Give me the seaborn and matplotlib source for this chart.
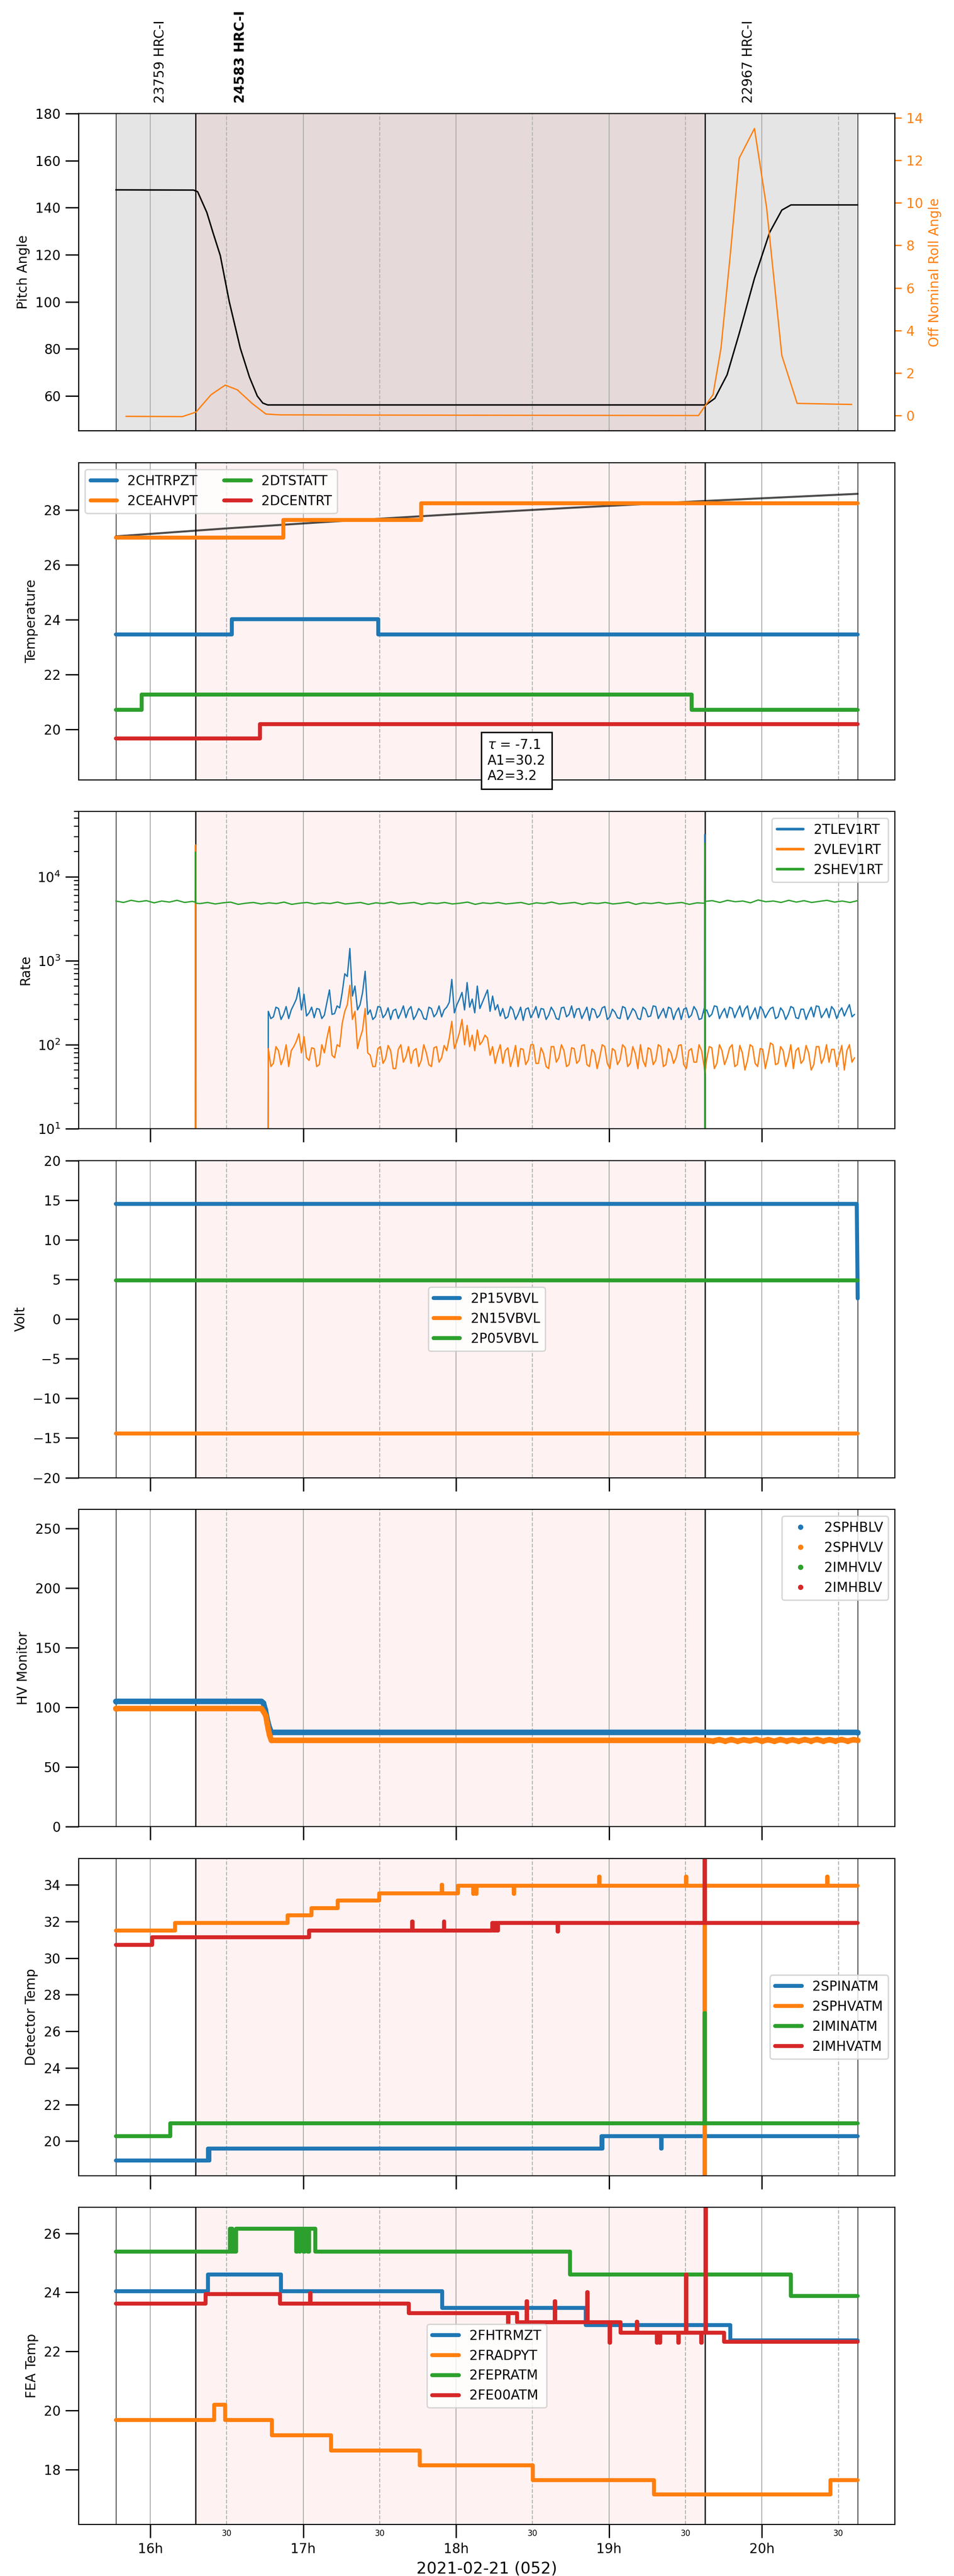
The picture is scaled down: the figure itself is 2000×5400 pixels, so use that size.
import numpy as np
import seaborn as sns
import matplotlib.pyplot as plt
from matplotlib.ticker import MultipleLocator, FuncFormatter
from matplotlib.lines import Line2D

# times are decimal hours on 2021-02-21
t_start, t_end = 15.775, 20.626
obs_bounds = [15.775, 16.296, 19.627, 20.626]
obs_names = ['23759 HRC-I', '24583 HRC-I', '22967 HRC-I']
obs_label_t = [16.065, 16.59, 19.91]

# panel 1: pitch / off nominal roll
pitch_t = [15.775, 16.283, 16.310, 16.370, 16.410, 16.458, 16.517, 16.589, 16.649, 16.700, 16.736, 16.768,
           19.633, 19.692, 19.772, 19.851, 19.951, 20.050, 20.130, 20.190, 20.626]
pitch_v = [147.6, 147.5, 146.8, 138.0, 129.5, 119.7, 100.0, 80.3, 68.0, 60.0, 57.0, 56.2,
           56.2, 59.0, 69.0, 86.5, 110.0, 129.5, 139.0, 141.2, 141.2]
roll_t = [15.841, 16.211, 16.299, 16.398, 16.490, 16.569, 16.669, 16.756, 16.848, 17.5, 18.5, 19.585,
          19.633, 19.680, 19.732, 19.792, 19.851, 19.951, 20.030, 20.130, 20.230, 20.587]
roll_v = [-0.04, -0.05, 0.16, 0.98, 1.43, 1.21, 0.55, 0.07, 0.03, 0.02, 0.01, 0.0,
          0.5, 0.98, 3.16, 7.5, 12.1, 13.5, 9.8, 2.82, 0.57, 0.52]

# panel 2: temperatures
chtrpzt_t = [15.775, 16.533, 17.490, 20.626]
chtrpzt_v = [23.47, 24.03, 23.47, 23.47]
ceahvpt_t = [15.775, 16.871, 17.771, 20.626]
ceahvpt_v = [27.0, 27.63, 28.24, 28.24]
dtstatt_t = [15.775, 15.944, 19.541, 20.626]
dtstatt_v = [20.72, 21.27, 20.72, 20.72]
dcentrt_t = [15.775, 16.716, 20.626]
dcentrt_v = [19.68, 20.2, 20.2]
trend_t = [15.775, 16.5, 17.25, 18.0, 18.75, 19.627, 20.626]
trend_v = [27.04, 27.33, 27.6, 27.85, 28.08, 28.33, 28.59]
fit_text = '$\\tau$ = -7.1\nA1=30.2\nA2=3.2'

# panel 3: rates (1 min samples from 16.772, 3 min samples from 15.775)
tlev_t0, vlev_t0, shev_t0 = 16.772, 16.772, 15.775
tlev_v = [250, 205, 215, 280, 270, 200, 230, 285, 205, 260,
          300, 350, 480, 260, 400, 220, 240, 280, 210, 270,
          265, 205, 225, 320, 450, 230, 235, 290, 275, 420,
          700, 650, 1400, 380, 500, 260, 300, 420, 750, 230,
          260, 200, 215, 285, 280, 210, 230, 275, 200, 255,
          265, 205, 240, 290, 210, 260, 285, 200, 225, 270,
          250, 205, 200, 280, 270, 215, 235, 290, 215, 260,
          280, 320, 600, 240, 300, 350, 420, 260, 550, 280,
          350, 240, 500, 270, 320, 380, 450, 250, 380, 260,
          300, 220, 270, 205, 215, 285, 260, 200, 230, 280,
          195, 265, 275, 210, 240, 285, 210, 270, 265, 200,
          225, 280, 250, 205, 200, 275, 280, 215, 230, 290,
          210, 265, 270, 205, 240, 280, 195, 270, 260, 210,
          225, 275, 285, 200, 215, 265, 245, 210, 205, 285,
          275, 200, 230, 270, 250, 205, 200, 280, 265, 215,
          220, 290, 285, 205, 235, 270, 210, 280, 270, 200,
          245, 275, 200, 265, 275, 210, 225, 285, 255, 200,
          205, 270, 260, 215, 230, 290, 285, 205, 240, 270,
          210, 280, 270, 210, 250, 290, 215, 265, 290, 200,
          235, 275, 205, 285, 260, 210, 240, 270, 280, 205,
          215, 275, 250, 200, 230, 285, 275, 210, 205, 265,
          265, 200, 240, 280, 215, 290, 285, 210, 235, 270,
          210, 285, 260, 205, 245, 275, 220, 260, 300, 215,
          230]
vlev_v = [90, 55, 60, 95, 85, 58, 70, 100, 55, 85,
          95, 110, 135, 80, 125, 70, 65, 92, 90, 55,
          58, 100, 80, 120, 165, 75, 70, 100, 95, 180,
          250, 300, 510, 200, 250, 90, 120, 150, 270, 80,
          75, 55, 55, 90, 95, 60, 68, 98, 85, 52,
          52, 88, 100, 62, 72, 95, 60, 85, 90, 55,
          65, 100, 80, 58, 55, 92, 95, 62, 70, 98,
          85, 120, 190, 90, 110, 140, 200, 100, 170, 95,
          130, 85, 150, 100, 110, 130, 120, 75, 95, 60,
          80, 100, 60, 85, 92, 55, 70, 98, 55, 90,
          88, 58, 66, 100, 100, 60, 60, 92, 78, 55,
          52, 95, 95, 62, 70, 100, 85, 55, 58, 92,
          90, 60, 65, 98, 100, 58, 55, 88, 80, 52,
          70, 100, 95, 60, 52, 90, 85, 58, 66, 100,
          92, 55, 60, 95, 78, 52, 100, 65, 55, 92,
          88, 58, 65, 100, 95, 55, 58, 90, 80, 60,
          70, 98, 100, 58, 52, 85, 90, 62, 62, 100,
          85, 55, 68, 95, 92, 52, 60, 100, 85, 58,
          70, 92, 100, 55, 58, 98, 80, 50, 65, 100,
          95, 60, 55, 90, 88, 52, 72, 105, 100, 58,
          60, 95, 85, 55, 70, 100, 52, 85, 92, 60,
          66, 98, 80, 50, 58, 95, 95, 60, 70, 100,
          62, 88, 88, 55, 75, 98, 50, 85, 100, 62,
          70]
shev_v = [5150, 4950, 5250, 5050, 5200, 4900, 5150, 5000, 5250, 4950, 5100,
          4800, 4950, 4750, 4900, 5000, 4700, 4850, 4950, 4750, 4900,
          4800, 5000, 4700, 4850, 4950, 4750, 4900, 4800, 5000, 4750,
          4850, 4950, 4700, 4900, 4800, 5000, 4750, 4850, 4950, 4700,
          4900, 4800, 4950, 4750, 4850, 5000, 4700, 4900, 4800, 4950,
          4750, 4850, 4950, 4700, 4900, 4800, 5000, 4750, 4850, 4950,
          4700, 4900, 4800, 4950, 4750, 4850, 5000, 4700, 4900, 4800,
          4950, 4750, 4850, 4950, 4700, 4900, 4850,
          5200, 4950, 5250, 5050, 5150, 4900, 5300, 5050, 5150, 4950,
          5250, 5000, 5200, 4950, 5100, 5250, 5000, 5150, 4950, 5200]
# transients at the obsid boundaries
tlev_spk_t = [16.770, 19.624, 19.626, 19.628]
tlev_spk_v = [1, 240, 32000, 250]
vlev_spk_t = [16.294, 16.296, 16.298, 16.770, 19.627]
vlev_spk_v = [1, 24000, 1, 1, 45]
shev_spk_t = [16.294, 16.296, 16.298, 19.626, 19.627, 19.628]
shev_spk_v = [5000, 19700, 4850, 25000, 1, 5100]

# panel 4: voltages
p15_t = [15.775, 20.620, 20.626]
p15_v = [14.52, 14.52, 2.6]
n15_t = [15.775, 20.626]
n15_v = [-14.43, -14.43]
p05_t = [15.775, 20.626]
p05_v = [4.85, 4.85]

# panel 5: HV monitors
sphblv_t = [15.775, 16.728, 16.740, 16.752, 16.768, 16.780, 16.792, 20.626]
sphblv_v = [105, 105, 103.6, 98, 88, 82.6, 79, 79]
sphvlv_t = [15.775, 16.728, 16.736, 16.756, 16.764, 16.772, 16.780, 16.792, 19.627,
            19.68, 19.72, 19.76, 19.80, 19.84, 19.88, 19.92, 19.96, 20.00, 20.04, 20.08, 20.12,
            20.16, 20.20, 20.24, 20.28, 20.32, 20.36, 20.40, 20.44, 20.48, 20.52, 20.56, 20.60, 20.626]
sphvlv_v = [99, 99, 97.4, 93, 87, 81.6, 76.8, 72.3, 72.3,
            71.8, 72.9, 71.7, 73.0, 71.6, 72.8, 71.9, 73.1, 71.7, 72.9, 71.6, 73.0,
            71.8, 72.8, 71.6, 73.0, 71.8, 73.1, 71.7, 72.9, 71.8, 73.0, 71.7, 72.9, 72.3]
hv_names = ['2SPHBLV', '2SPHVLV', '2IMHVLV', '2IMHBLV']

# panel 6: detector temperatures
spinatm_t = [15.775, 16.378, 16.383, 16.388, 16.393, 18.950, 18.954, 18.958, 19.340, 19.343, 20.626]
spinatm_v = [18.93, 19.6, 18.93, 19.6, 19.6, 20.28, 19.6, 20.28, 19.6, 20.28, 20.28]
sphvatm_t = [15.775, 16.163, 16.899, 17.054, 17.225, 17.496, 17.905, 17.908, 18.013, 18.112, 18.115,
             18.132, 18.135, 18.378, 18.381, 18.935, 18.938, 19.504, 19.507, 19.626, 19.629,
             20.427, 20.430, 20.626]
sphvatm_v = [31.5, 31.93, 32.33, 32.73, 33.15, 33.53, 34.0, 33.53, 33.96, 33.5, 33.96,
             33.5, 33.96, 33.5, 33.96, 34.45, 33.96, 34.45, 33.96, 17.5, 33.96,
             34.45, 33.96, 33.96]
iminatm_t = [15.775, 16.131, 19.626, 19.629, 20.626]
iminatm_v = [20.28, 20.98, 27.0, 20.98, 20.98]
imhvatm_t = [15.775, 16.012, 17.038, 17.714, 17.717, 17.920, 17.923, 18.235, 18.245, 18.255, 18.265,
             18.275, 18.665, 18.668, 19.626, 19.629, 20.626]
imhvatm_v = [30.73, 31.13, 31.51, 32.0, 31.51, 32.0, 31.51, 31.91, 31.51, 31.91, 31.51,
             31.91, 31.45, 31.91, 37.0, 31.91, 31.91]

# panel 7: FEA temperatures
fhtrmzt_t = [15.775, 16.378, 16.856, 17.910, 18.849, 19.792, 20.626]
fhtrmzt_v = [24.03, 24.61, 24.03, 23.47, 22.89, 22.37, 22.37]
fradpyt_t = [15.775, 16.418, 16.490, 16.796, 17.182, 17.763, 18.502, 19.294, 20.448, 20.626]
fradpyt_v = [19.67, 20.19, 19.67, 19.16, 18.65, 18.15, 17.64, 17.15, 17.65, 17.65]
fepratm_t = [15.775, 16.521, 16.526, 16.531, 16.536, 16.560, 16.955, 16.960, 16.975, 16.980, 17.000,
             17.010, 17.030, 17.040, 17.078, 18.745, 20.189, 20.626]
fepratm_v = [25.38, 26.15, 25.38, 26.15, 25.38, 26.15, 25.38, 26.15, 25.38, 26.15, 25.38,
             26.15, 25.38, 26.15, 25.38, 24.61, 23.87, 23.87]
fe00atm_t = [15.775, 16.362, 16.848, 17.046, 17.049, 17.691, 18.339, 18.342, 18.399, 18.462, 18.465,
             18.644, 18.647, 18.856, 18.859, 19.003, 19.006, 19.075, 19.182, 19.185, 19.313, 19.316,
             19.330, 19.333, 19.452, 19.455, 19.504, 19.507, 19.604, 19.607, 19.632, 19.635, 19.752, 20.626]
fe00atm_v = [23.61, 23.94, 23.61, 23.98, 23.61, 23.29, 22.95, 23.29, 22.98, 23.7, 22.98,
             23.7, 22.98, 24.0, 22.98, 22.3, 22.98, 22.64, 23.0, 22.64, 22.3, 22.64,
             22.3, 22.64, 22.3, 22.64, 24.6, 22.64, 22.3, 22.64, 27.5, 22.64, 22.33, 22.33]

C = sns.color_palette('tab10')
STEP_LW = 3.0

sns.set_style('ticks')
plt.rcParams.update({
    'font.family': ['DejaVu Sans'],
    'font.size': 10, 'axes.labelsize': 10, 'legend.fontsize': 10,
    'xtick.labelsize': 10, 'ytick.labelsize': 10,
    'axes.edgecolor': 'black', 'axes.linewidth': 0.8,
    'xtick.color': 'black', 'ytick.color': 'black',
    'text.color': 'black', 'axes.labelcolor': 'black',
    'xtick.major.size': 10, 'ytick.major.size': 10,
    'xtick.major.width': 1.0, 'ytick.major.width': 1.0,
    'ytick.minor.size': 3.5, 'ytick.minor.width': 0.8,
})


def merged(t, v, st, sv):
    tt = np.concatenate([t, st])
    vv = np.concatenate([v, sv])
    o = np.argsort(tt, kind='stable')
    return tt[o], vv[o]


def line(ax, t, v, color, lw, label=None, **kw):
    sns.lineplot(x=np.asarray(t), y=np.asarray(v), ax=ax, color=color, linewidth=lw, label=label,
                 estimator=None, sort=False, legend=False, **kw)


def decorate(ax):
    ax.axvspan(obs_bounds[1], obs_bounds[2], color='red', alpha=0.05, lw=0, zorder=0)
    for i, x in enumerate(obs_bounds):
        ax.axvline(x, color='black', lw=0.9 if i in (1, 2) else 0.5, zorder=1)
    ax.grid(True, which='major', axis='x', color='#b0b0b0', lw=0.75)
    ax.grid(True, which='minor', axis='x', color='#b4b4b4', lw=0.75, ls='--')


fig, axes = plt.subplots(7, 1, figsize=(10, 27), dpi=200, sharex=True)
fig.subplots_adjust(left=0.0823, right=0.938, top=0.9559, bottom=0.0200, hspace=0.1)

# panel 1
ax = axes[0]
for a, b in zip(obs_bounds[:-1], obs_bounds[1:]):
    ax.axvspan(a, b, color='gray', alpha=0.2, lw=0, zorder=0)
decorate(ax)
line(ax, pitch_t, pitch_v, 'black', 1.1)
ax.set_ylim(45.2, 180)
ax.yaxis.set_major_locator(MultipleLocator(20))
ax.set_ylabel('Pitch Angle')
for i, (tx, name) in enumerate(zip(obs_label_t, obs_names)):
    ax.text(tx, 1.033, name, transform=ax.get_xaxis_transform(), rotation=90,
            ha='center', va='bottom', fontsize=10, fontweight='bold' if i == 1 else 'normal')
axr = ax.twinx()
line(axr, roll_t, roll_v, C[1], 1.0)
axr.set_ylim(-0.72, 14.2)
axr.yaxis.set_major_locator(MultipleLocator(2))
axr.tick_params(axis='y', colors=C[1], length=5, width=1)
axr.set_ylabel('Off Nominal Roll Angle', color=C[1])

# panel 2
ax = axes[1]
decorate(ax)
line(ax, trend_t, trend_v, 'black', 1.5, alpha=0.7)
line(ax, chtrpzt_t, chtrpzt_v, C[0], STEP_LW, '2CHTRPZT', drawstyle='steps-post')
line(ax, ceahvpt_t, ceahvpt_v, C[1], STEP_LW, '2CEAHVPT', drawstyle='steps-post')
line(ax, dtstatt_t, dtstatt_v, C[2], STEP_LW, '2DTSTATT', drawstyle='steps-post')
line(ax, dcentrt_t, dcentrt_v, C[3], STEP_LW, '2DCENTRT', drawstyle='steps-post')
ax.set_ylim(18.17, 29.73)
ax.yaxis.set_major_locator(MultipleLocator(2))
ax.set_ylabel('Temperature')
h, l = ax.get_legend_handles_labels()
ax.legend(h[-4:], l[-4:], loc='upper left', ncol=2)
ax.text(0.501, -0.01, fit_text, transform=ax.transAxes, ha='left', va='bottom', fontsize=10, zorder=10,
        bbox=dict(boxstyle='square,pad=0.47', fc='white', ec='black', lw=1.1))

# panel 3
ax = axes[2]
ax.set_yscale('log')
decorate(ax)
tl_t, tl_v = merged(tlev_t0 + np.arange(len(tlev_v)) / 60, tlev_v, tlev_spk_t, tlev_spk_v)
vl_t, vl_v = merged(vlev_t0 + np.arange(len(vlev_v)) / 60, vlev_v, vlev_spk_t, vlev_spk_v)
sh_t, sh_v = merged(shev_t0 + np.arange(len(shev_v)) * 0.05, shev_v, shev_spk_t, shev_spk_v)
line(ax, tl_t, tl_v, C[0], 1.0, '2TLEV1RT')
line(ax, vl_t, vl_v, C[1], 1.0, '2VLEV1RT')
line(ax, sh_t, sh_v, C[2], 1.0, '2SHEV1RT')
ax.set_ylim(10, 6e4)
ax.set_ylabel('Rate')
leg = ax.legend(loc='upper right')
for ln in leg.get_lines():
    ln.set_linewidth(2.0)

# panel 4
ax = axes[3]
decorate(ax)
line(ax, p15_t, p15_v, C[0], STEP_LW, '2P15VBVL')
line(ax, n15_t, n15_v, C[1], STEP_LW, '2N15VBVL')
line(ax, p05_t, p05_v, C[2], STEP_LW, '2P05VBVL')
ax.set_ylim(-20, 20)
ax.yaxis.set_major_locator(MultipleLocator(5))
ax.set_ylabel('Volt')
ax.legend(loc='center')

# panel 5
ax = axes[4]
decorate(ax)
line(ax, sphblv_t, sphblv_v, C[0], 4.2, marker='o', ms=4.2, mew=0, solid_capstyle='round')
line(ax, sphvlv_t, sphvlv_v, C[1], 4.2, marker='o', ms=4.2, mew=0, solid_capstyle='round')
ax.set_ylim(0, 266)
ax.yaxis.set_major_locator(MultipleLocator(50))
ax.set_ylabel('HV Monitor')
hv_handles = [Line2D([], [], ls='', marker='o', ms=3, color=C[i]) for i in range(4)]
ax.legend(hv_handles, hv_names, loc='upper right')

# panel 6
ax = axes[5]
decorate(ax)
line(ax, spinatm_t, spinatm_v, C[0], STEP_LW, '2SPINATM', drawstyle='steps-post')
line(ax, sphvatm_t, sphvatm_v, C[1], STEP_LW, '2SPHVATM', drawstyle='steps-post')
line(ax, iminatm_t, iminatm_v, C[2], STEP_LW, '2IMINATM', drawstyle='steps-post')
line(ax, imhvatm_t, imhvatm_v, C[3], STEP_LW, '2IMHVATM', drawstyle='steps-post')
ax.set_ylim(18.12, 35.45)
ax.yaxis.set_major_locator(MultipleLocator(2))
ax.set_ylabel('Detector Temp')
ax.legend(loc='center right')

# panel 7
ax = axes[6]
decorate(ax)
line(ax, fhtrmzt_t, fhtrmzt_v, C[0], STEP_LW, '2FHTRMZT', drawstyle='steps-post')
line(ax, fradpyt_t, fradpyt_v, C[1], STEP_LW, '2FRADPYT', drawstyle='steps-post')
line(ax, fepratm_t, fepratm_v, C[2], STEP_LW, '2FEPRATM', drawstyle='steps-post')
line(ax, fe00atm_t, fe00atm_v, C[3], STEP_LW, '2FE00ATM', drawstyle='steps-post')
ax.set_ylim(16.14, 26.88)
ax.yaxis.set_major_locator(MultipleLocator(2))
ax.set_ylabel('FEA Temp')
ax.legend(loc='center')
ax.set_xlabel('2021-02-21 (052)', fontsize=12)

# shared time axis
ax.set_xlim(15.531, 20.869)
ax.xaxis.set_major_locator(MultipleLocator(1))
ax.xaxis.set_minor_locator(MultipleLocator(0.5))
ax.xaxis.set_major_formatter(FuncFormatter(lambda x, p: f'{x:.0f}h'))
ax.xaxis.set_minor_formatter(FuncFormatter(lambda x, p: '30'))
for i, a in enumerate(axes):
    if i < 2:
        a.tick_params(axis='x', which='both', length=0, labelbottom=False)
    else:
        a.tick_params(axis='x', which='major', length=10, width=1.0, top=False)
        a.tick_params(axis='x', which='minor', length=0, top=False, labelsize=6, pad=3.5)
    a.tick_params(axis='y', which='both', right=False)
axes[-1].tick_params(axis='x', which='both', labelbottom=True)

fig.savefig('out.png', dpi=200)
